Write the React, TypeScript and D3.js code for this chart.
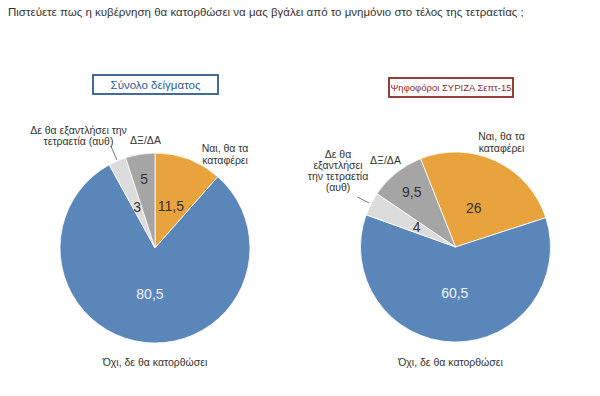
import React from "react";
import * as d3 from "d3";

const TITLE = "Πιστεύετε πως η κυβέρνηση θα κατορθώσει να μας βγάλει από το μνημόνιο στο τέλος της τετραετίας ;";
const categories = ["Ναι, θα τα καταφέρει", "Όχι, δε θα κατορθώσει", "Δε θα εξαντλήσει την τετραετία (αυθ)", "ΔΞ/ΔΑ"];
const totalValues = [11.5, 80.5, 3, 5];
const syrizaValues = [26, 60.5, 4, 9.5];
const totalLabels = ["11,5", "80,5", "3", "5"];
const syrizaLabels = ["26", "60,5", "4", "9,5"];
const pieTitles = ["Σύνολο δείγματος", "Ψηφοφόροι ΣΥΡΙΖΑ Σεπτ-15"];

const COLORS = ["#E9A33C", "#5B86BA", "#DCDCDC", "#A5A5A5"];
const NUM_COLORS = ["#333", "#EEF2F8", "#333", "#333"];
const FONT = "'Liberation Sans', Arial, sans-serif";

const W = 600, H = 396, R = 95;

type Cfg = {
  cx: number; cy: number; start: number; values: number[]; nums: string[];
  labelR: number[];
  box: { x: number; y: number; w: number; h: number; color: string; text: string; fs: number };
  catLabels: { lines: string[]; dx: number; dy: number; lh: number }[];
  leader: { r1: number; r2: number; slice: number };
};

const pies: Cfg[] = [
  {
    cx: 155, cy: 248, start: 0, values: totalValues, nums: totalLabels,
    labelR: [45, 46, 45, 70],
    box: { x: 93, y: 75, w: 125, h: 19, color: "#2E5D90", text: pieTitles[0], fs: 11.5 },
    catLabels: [
      { lines: ["Ναι, θα τα", "καταφέρει"], dx: 70, dy: -100, lh: 12.5 },
      { lines: ["Όχι, δε θα κατορθώσει"], dx: 0, dy: 114, lh: 12 },
      { lines: ["Δε θα εξαντλήσει την", "τετραετία (αυθ)"], dx: -76.5, dy: -118, lh: 11.5 },
      { lines: ["ΔΞ/ΔΑ"], dx: -9.5, dy: -108, lh: 12 },
    ],
    leader: { r1: 96, r2: 111, slice: 2 },
  },
  {
    cx: 455.5, cy: 247, start: -21.6, values: syrizaValues, nums: syrizaLabels,
    labelR: [43, 46, 43.5, 70],
    box: { x: 389, y: 78, w: 124, h: 19, color: "#8B2A2A", text: pieTitles[1], fs: 9.5 },
    catLabels: [
      { lines: ["Ναι, θα τα", "καταφέρει"], dx: 46, dy: -111, lh: 12 },
      { lines: ["Όχι, δε θα κατορθώσει"], dx: -5, dy: 115, lh: 12 },
      { lines: ["Δε θα", "εξαντλήσει", "την τετραετία", "(αυθ)"], dx: -117.5, dy: -93, lh: 11 },
      { lines: ["ΔΞ/ΔΑ"], dx: -70, dy: -87, lh: 12 },
    ],
    leader: { r1: 97, r2: 110, slice: 2 },
  },
];

function Pie({ cfg }: { cfg: Cfg }) {
  const s = (cfg.start * Math.PI) / 180;
  const arcs = d3.pie<number>().sort(null).startAngle(s).endAngle(s + 2 * Math.PI)(cfg.values);
  const arc = d3.arc<d3.PieArcDatum<number>>().innerRadius(0).outerRadius(R);
  const la = arcs[cfg.leader.slice];
  const mid = (la.startAngle + la.endAngle) / 2;
  const p = (r: number) => [r * Math.sin(mid), -r * Math.cos(mid)];
  const [x1, y1] = p(cfg.leader.r1);
  const [x2, y2] = p(cfg.leader.r2);
  const b = cfg.box;
  return (
    <g>
      <rect x={b.x} y={b.y} width={b.w} height={b.h} fill="#fff" stroke={b.color} strokeWidth={1.8} />
      <text x={b.x + b.w / 2} y={b.y + b.h / 2} dy="0.36em" textAnchor="middle" fontSize={b.fs} fill={b.color} fontFamily={FONT}>{b.text}</text>
      <g transform={`translate(${cfg.cx},${cfg.cy})`}>
        {arcs.map((a, i) => (
          <path key={i} d={arc(a) || ""} fill={COLORS[i]} stroke="#fff" strokeWidth={0.8} />
        ))}
        {arcs.map((a, i) => {
          const m = (a.startAngle + a.endAngle) / 2;
          const r = cfg.labelR[i];
          return (
            <text key={"n" + i} x={r * Math.sin(m)} y={-r * Math.cos(m)} dy="0.36em" textAnchor="middle" fontSize={14} fill={NUM_COLORS[i]} fontFamily={FONT}>{cfg.nums[i]}</text>
          );
        })}
        <line x1={x1} y1={y1} x2={x2} y2={y2} stroke="#555" strokeWidth={0.8} />
        {cfg.catLabels.map((c, i) => (
          <text key={"c" + i} textAnchor="middle" fontSize={10.5} fill="#333" fontFamily={FONT}>
            {c.lines.map((l, j) => (
              <tspan key={j} x={c.dx} y={c.dy + j * c.lh} dy="0.36em">{l}</tspan>
            ))}
          </text>
        ))}
      </g>
    </g>
  );
}

export default function App() {
  return (
    <svg width={W} height={H} style={{ position: "absolute", left: 0, top: 0, display: "block", background: "#fff" }}>
      <rect width={W} height={H} fill="#fff" />
      <text x={8} y={16} fontSize={11.5} fill="#333" fontFamily={FONT}>{TITLE}</text>
      {pies.map((p, i) => <Pie key={i} cfg={p} />)}
    </svg>
  );
}
